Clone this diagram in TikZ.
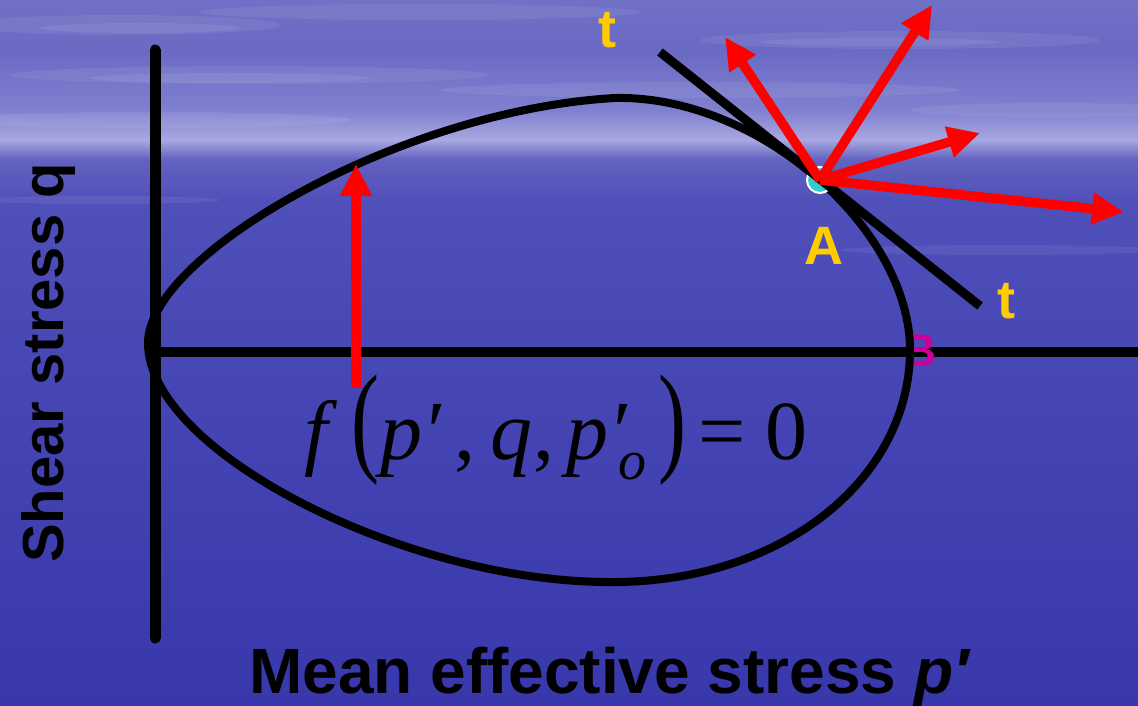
\documentclass[tikz,border=0pt]{standalone}
\usepackage{fontspec}
\usepackage{graphicx}
\setmainfont{Liberation Serif}
\setsansfont{Liberation Sans}
\usetikzlibrary{arrows.meta}
\definecolor{sky0}{HTML}{7070C6}
\definecolor{sky1}{HTML}{6A6AC4}
\definecolor{sky2}{HTML}{8080D0}
\definecolor{horizon}{HTML}{A8A8E2}
\definecolor{sky3}{HTML}{6262C0}
\definecolor{sea2}{HTML}{5050BA}
\definecolor{sea3}{HTML}{4545B4}
\definecolor{sea4}{HTML}{3838AC}
\definecolor{tyellow}{HTML}{FFCC00}
\definecolor{bmagenta}{HTML}{CC0099}
\definecolor{acyan}{HTML}{33CCCC}
\pgfdeclareverticalshading{seasky}{100bp}{color(0bp)=(sea4); color(25bp)=(sea4); color(46.7bp)=(sea3); color(60.8bp)=(sea2); color(63.7bp)=(sky3); color(65.1bp)=(horizon); color(67.2bp)=(sky2); color(71.4bp)=(sky1); color(75bp)=(sky0); color(100bp)=(sky0)}
\begin{document}
\begin{tikzpicture}[x=1pt,y=-1pt,
  axisline/.style={line width=11pt,black},
  yield/.style={line width=8pt,black,line join=round},
  tline/.style={line width=9pt,black},
  vec/.style={line width=9.5pt,red,-{Triangle[length=32pt,width=30pt]}},
  lblY/.style={font=\sffamily\bfseries\fontsize{54}{54}\selectfont,text=tyellow,inner sep=0pt},
  lblB/.style={font=\sffamily\bfseries\fontsize{46}{46}\selectfont,text=bmagenta,inner sep=0pt},
  axlbl/.style={font=\sffamily\bfseries\fontsize{64}{64}\selectfont,text=black,inner sep=0pt},
  fml/.style={font=\fontsize{84}{84}\selectfont,text=black,inner sep=0pt,anchor=base west},
  ptA/.style={circle,fill=acyan,draw=white,line width=2pt,minimum size=26pt,inner sep=0pt},
  cloud/.style={white,opacity=0.07}]
\shade[shading=seasky] (0,0) rectangle (1138,706);
\useasboundingbox (0,0) rectangle (1138,706);
% cloud streaks
\fill[cloud] (120,25) ellipse (160 and 10);
\fill[cloud] (140,28) ellipse (100 and 5);
\fill[cloud] (420,12) ellipse (220 and 8);
\fill[cloud] (900,40) ellipse (200 and 9);
\fill[cloud] (880,42) ellipse (120 and 4);
\fill[cloud] (250,75) ellipse (240 and 9);
\fill[cloud] (230,78) ellipse (140 and 5);
\fill[cloud] (700,90) ellipse (260 and 8);
\fill[cloud] (1050,110) ellipse (140 and 7);
\fill[cloud] (150,120) ellipse (200 and 8);
\fill[cloud] (1000,250) ellipse (160 and 5);
\fill[cloud] (100,200) ellipse (120 and 4);
% axes
\coordinate (vtop) at (155,50);
\coordinate (vbot) at (155,638);
\coordinate (hleft) at (150,352);
\coordinate (hright) at (1140,352);
\draw[axisline,line cap=round] (vtop) -- (vbot);
\draw[axisline,line width=10pt] (hleft) -- (hright);
% B label
\node[lblB] (B) at (920,351) {B};
% yield surface
\draw[yield] (148,343) .. controls (148,255) and (400,110) .. (615,98)
  .. controls (760,95) and (910,230) .. (910,350)
  .. controls (910,480) and (780,585) .. (605,582)
  .. controls (400,580) and (148,450) .. cycle;
% point A
\node[ptA] (A) at (820,180) {};
% tangent line
\coordinate (t1) at (660,52);
\coordinate (t2) at (980,306);
\draw[tline] (t1) -- (t2);
% red vectors
\coordinate (a1) at (725,37);
\coordinate (a2) at (932,5);
\coordinate (a3) at (980,133);
\coordinate (a4) at (1124,212);
\draw[vec] (A.center) -- (a1);
\draw[vec] (A.center) -- (a2);
\draw[vec] (A.center) -- (a3);
\draw[vec] (A.center) -- (a4);
\coordinate (r0) at (356,388);
\coordinate (r1) at (356,164);
\draw[vec] (r0) -- (r1);
% labels
\node[lblY] (tTop) at (607,30) {t};
\node[lblY] (tBot) at (1006,301) {t};
\node[lblY] (Alab) at (824,246) {A};
% formula
\node[fml] (f1) at (304,459) {\textit{f}};
\node[fml] (f2) at (351,459) {\scalebox{1}[1.45]{(}};
\node[fml] (f3) at (380,459) {\textit{p′}};
\node[fml] (f4) at (454,459) {,};
\node[fml] (f5) at (490,459) {\textit{q}};
\node[fml] (f6) at (533,459) {,};
\node[fml] (f7) at (566,459) {\textit{p′}\hspace{-9pt}\raisebox{-20pt}{\fontsize{56}{56}\selectfont\textit{o}}};
\node[fml] (f9) at (658,459) {\scalebox{1}[1.45]{)}};
\node[fml] (f10) at (698,459) {=};
\node[fml] (f11) at (765,459) {0};
% axis labels
\node[axlbl,anchor=base west] (xl) at (249,693) {Mean effective stress \textit{p′}};
\node[axlbl,anchor=base west,rotate=90,font=\sffamily\bfseries\fontsize{58}{58}\selectfont] (yl) at (63,563) {Shear stress q};
\end{tikzpicture}
\end{document}
